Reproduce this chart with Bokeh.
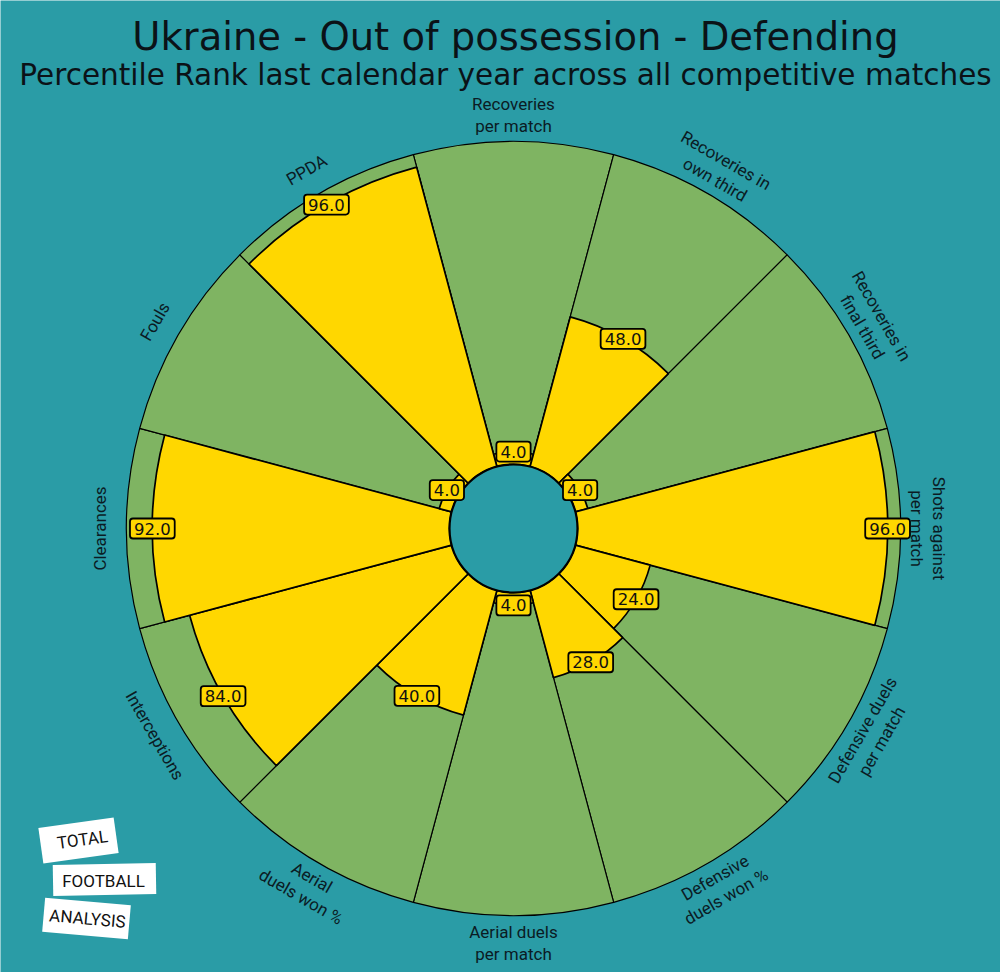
import numpy as np
from bokeh.plotting import figure
from bokeh.models import Range1d, ColumnDataSource
from bokeh.core.properties import value
from bokeh.embed import file_html
from bokeh.resources import INLINE

# ---------------- data ----------------
categories = ["Recoveries\nper match", "Recoveries in\nown third", "Recoveries in\nfinal third",
              "Shots against\nper match", "Defensive duels\nper match", "Defensive\nduels won %",
              "Aerial duels\nper match", "Aerial\nduels won %", "Interceptions", "Clearances",
              "Fouls", "PPDA"]
percentiles = [4.0, 48.0, 4.0, 96.0, 24.0, 28.0, 4.0, 40.0, 84.0, 92.0, 4.0, 96.0]
title = "Ukraine - Out of possession - Defending"
subtitle = "Percentile Rank last calendar year across all competitive matches"
logo_words = ["TOTAL", "FOOTBALL", "ANALYSIS"]

# ---------------- style / geometry ----------------
W, H = 1000, 972
BG = "#2a9ca6"
GREEN = "#7fb462"
GOLD = "#ffd700"
TXT = "#0b1b24"
CX, CY = 513, H - 528
R0, R1 = 64, 387
LABEL_R = 414

def py(y):
    return H - y

n = len(categories)
step = 360.0 / n
centers = np.array([90 - step * i for i in range(n)])
starts = np.deg2rad(centers - step / 2)
ends = np.deg2rad(centers + step / 2)
vals = np.array(percentiles)
val_r = R0 + (R1 - R0) * vals / 100.0

p = figure(width=W, height=H, x_range=Range1d(0, W), y_range=Range1d(0, H),
           output_backend="svg", toolbar_location=None, min_border=0,
           background_fill_color=BG, border_fill_color=BG, outline_line_color=None,
           x_axis_type=None, y_axis_type=None)
p.grid.visible = False

src = ColumnDataSource(dict(start=starts, end=ends, vr=val_r,
                            x=[CX] * n, y=[CY] * n))

# background slices
p.annular_wedge(x="x", y="y", inner_radius=R0, outer_radius=R1, start_angle="start",
                end_angle="end", source=src, fill_color=GREEN, line_color="black",
                line_width=1.2)
# value slices
p.annular_wedge(x="x", y="y", inner_radius=R0, outer_radius="vr", start_angle="start",
                end_angle="end", source=src, fill_color=GOLD, line_color="black",
                line_width=1.7)
# centre circle
p.circle(x=[CX], y=[CY], radius=R0, fill_color=BG, line_color="black", line_width=2.2)

# value labels
th = np.deg2rad(centers)
lab = ColumnDataSource(dict(x=CX + val_r * np.cos(th), y=CY + val_r * np.sin(th),
                            t=[f"{v:.1f}" for v in vals]))
p.text(x="x", y="y", text="t", source=lab, text_align="center", text_baseline="middle",
       text_font=value("DejaVu Sans"), text_font_size="16.5px", text_color="#111111",
       background_fill_color=GOLD, border_line_color="black", border_line_width=1.8,
       padding=4, border_radius=3)

# category labels
rot = []
for c in centers:
    a = ((c + 180) % 360) - 180
    if np.sin(np.deg2rad(a)) < -1e-9:
        rot.append(np.deg2rad(a + 90))
    else:
        rot.append(np.deg2rad(a - 90))
cat = ColumnDataSource(dict(x=CX + LABEL_R * np.cos(th), y=CY + LABEL_R * np.sin(th),
                            t=categories, a=rot))
p.text(x="x", y="y", text="t", angle="a", source=cat, text_align="center",
       text_baseline="middle", text_font=value("Roboto"), text_font_size="17px",
       text_color=TXT, text_line_height=1.1)

# titles
p.text(x=[515], y=[py(36)], text=[title], text_align="center", text_baseline="alphabetic",
       text_font=value("DejaVu Sans"), text_font_size="38.5px", text_color="#0b1217")
p.text(x=[505], y=[py(74)], text=[subtitle], text_align="center", text_baseline="alphabetic",
       text_font=value("DejaVu Sans"), text_font_size="29.5px", text_color="#0b1217")

# logo
p.rect(x=[78, 104, 86], y=[py(840), py(879), py(918)], width=[76, 103, 86],
       height=[36, 31, 34], angle=[np.deg2rad(8), np.deg2rad(1), np.deg2rad(-5)],
       fill_color="white", line_color=None)
p.text(x=[82, 103, 87], y=[py(839), py(880), py(918)], text=logo_words,
       angle=[np.deg2rad(8), 0, np.deg2rad(-5)], text_align="center",
       text_baseline="middle", text_font=value("Roboto"), text_font_size="17px",
       text_color="#111111")

open("out.html", "w").write(file_html(p, INLINE))
